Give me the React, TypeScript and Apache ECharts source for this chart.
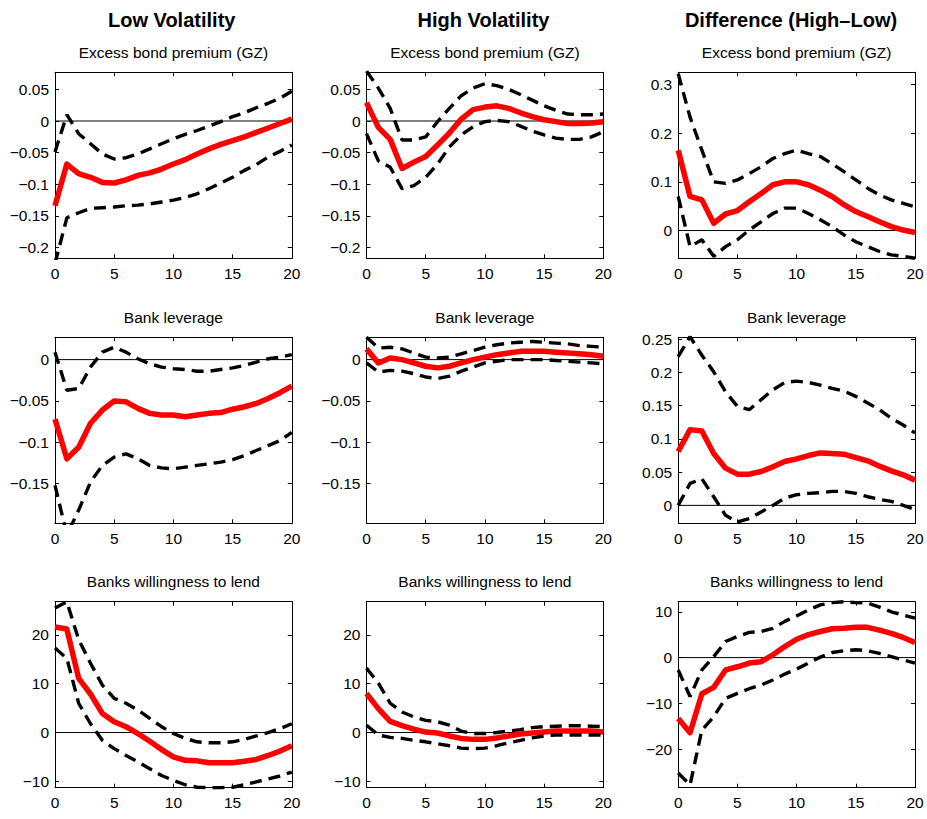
import React, { useEffect, useRef } from "react";
import * as echarts from "echarts";

// Horizon (quarters) and tick labels
const horizon = [0, 1, 2, 3, 4, 5, 6, 7, 8, 9, 10, 11, 12, 13, 14, 15, 16, 17, 18, 19, 20];
const xTicks = [0, 5, 10, 15, 20];

const columnTitles = ["Low Volatility", "High Volatility", "Difference (High\u2013Low)"];
const rowTitles = ["Excess bond premium (GZ)", "Bank leverage", "Banks willingness to lend"];

// Row 1: Excess bond premium (GZ)
const lowEbpMed = [-0.134, -0.068, -0.083, -0.089, -0.097, -0.098, -0.093, -0.086, -0.082, -0.076, -0.068, -0.061, -0.052, -0.044, -0.037, -0.031, -0.025, -0.018, -0.011, -0.004, 0.003];
const lowEbpUp = [-0.049, 0.01, -0.02, -0.036, -0.052, -0.06, -0.058, -0.052, -0.044, -0.036, -0.028, -0.021, -0.015, -0.008, -0.001, 0.007, 0.013, 0.021, 0.028, 0.036, 0.047];
const lowEbpLo = [-0.225, -0.153, -0.145, -0.138, -0.137, -0.136, -0.134, -0.133, -0.131, -0.128, -0.125, -0.121, -0.115, -0.107, -0.098, -0.089, -0.078, -0.069, -0.057, -0.048, -0.038];

const highEbpMed = [0.029, -0.01, -0.029, -0.075, -0.065, -0.056, -0.038, -0.019, 0.003, 0.018, 0.022, 0.024, 0.02, 0.013, 0.007, 0.002, -0.001, -0.004, -0.004, -0.003, -0.001];
const highEbpUp = [0.079, 0.052, 0.02, -0.03, -0.03, -0.025, -0.001, 0.02, 0.04, 0.052, 0.059, 0.056, 0.05, 0.042, 0.033, 0.024, 0.017, 0.011, 0.01, 0.01, 0.011];
const highEbpLo = [-0.02, -0.063, -0.073, -0.107, -0.102, -0.089, -0.068, -0.041, -0.022, -0.009, -0.001, 0.001, -0.001, -0.008, -0.016, -0.022, -0.027, -0.029, -0.029, -0.025, -0.017];

const diffEbpMed = [0.165, 0.07, 0.063, 0.015, 0.034, 0.041, 0.059, 0.076, 0.094, 0.1, 0.1, 0.094, 0.083, 0.07, 0.053, 0.039, 0.029, 0.018, 0.008, 0.001, -0.004];
const diffEbpUp = [0.322, 0.233, 0.165, 0.1, 0.097, 0.104, 0.117, 0.131, 0.148, 0.158, 0.165, 0.158, 0.152, 0.137, 0.121, 0.104, 0.087, 0.073, 0.063, 0.056, 0.049];
const diffEbpLo = [0.07, -0.033, -0.019, -0.053, -0.033, -0.019, 0.001, 0.018, 0.035, 0.046, 0.046, 0.035, 0.022, 0.008, -0.009, -0.023, -0.033, -0.043, -0.05, -0.053, -0.057];

// Row 2: Bank leverage
const lowLevMed = [-0.072, -0.12, -0.106, -0.077, -0.061, -0.05, -0.051, -0.059, -0.065, -0.067, -0.067, -0.069, -0.067, -0.065, -0.064, -0.06, -0.057, -0.053, -0.047, -0.04, -0.032];
const lowLevUp = [0.009, -0.037, -0.035, -0.009, 0.009, 0.015, 0.009, 0.001, -0.005, -0.009, -0.011, -0.012, -0.014, -0.014, -0.012, -0.01, -0.007, -0.003, 0.001, 0.003, 0.006];
const lowLevLo = [-0.152, -0.212, -0.182, -0.148, -0.128, -0.118, -0.114, -0.12, -0.128, -0.131, -0.132, -0.13, -0.128, -0.126, -0.124, -0.121, -0.116, -0.11, -0.104, -0.098, -0.088];

const highLevMed = [0.013, -0.004, 0.002, 0.0, -0.004, -0.008, -0.01, -0.008, -0.004, 0.0, 0.003, 0.006, 0.008, 0.01, 0.01, 0.01, 0.009, 0.008, 0.007, 0.006, 0.004];
const highLevUp = [0.027, 0.014, 0.015, 0.013, 0.008, 0.003, 0.002, 0.003, 0.007, 0.011, 0.015, 0.018, 0.02, 0.021, 0.022, 0.021, 0.02, 0.019, 0.017, 0.016, 0.015];
const highLevLo = [-0.004, -0.015, -0.013, -0.014, -0.017, -0.021, -0.023, -0.02, -0.014, -0.009, -0.004, -0.002, 0.0, 0.0, 0.0, 0.0, -0.001, -0.002, -0.003, -0.004, -0.005];

const diffLevMed = [0.081, 0.114, 0.112, 0.078, 0.056, 0.047, 0.047, 0.051, 0.058, 0.066, 0.07, 0.075, 0.079, 0.078, 0.077, 0.072, 0.067, 0.059, 0.052, 0.046, 0.038];
const diffLevUp = [0.224, 0.254, 0.226, 0.201, 0.171, 0.149, 0.144, 0.159, 0.174, 0.185, 0.187, 0.185, 0.181, 0.176, 0.172, 0.164, 0.154, 0.144, 0.131, 0.121, 0.109];
const diffLevLo = [0.0, 0.033, 0.04, 0.013, -0.015, -0.025, -0.02, -0.01, 0.0, 0.011, 0.016, 0.018, 0.019, 0.021, 0.021, 0.018, 0.013, 0.009, 0.006, 0.0, -0.006];

// Row 3: Banks willingness to lend
const lowLendMed = [21.6, 21.2, 11.1, 7.9, 3.9, 2.2, 1.2, -0.2, -1.8, -3.5, -5.0, -5.7, -5.8, -6.2, -6.2, -6.2, -5.9, -5.5, -4.7, -3.8, -2.7];
const lowLendUp = [25.5, 26.8, 19.0, 14.2, 9.7, 7.0, 6.0, 4.6, 2.9, 1.2, -0.2, -1.2, -1.9, -2.1, -2.1, -1.9, -1.4, -0.7, 0.0, 0.8, 1.8];
const lowLendLo = [17.3, 15.2, 6.0, 1.8, -1.6, -3.3, -4.7, -6.0, -7.4, -8.8, -9.8, -10.7, -11.2, -11.3, -11.3, -11.2, -10.7, -10.1, -9.5, -8.9, -8.1];

const highLendMed = [8.0, 4.9, 2.3, 1.4, 0.7, 0.1, -0.1, -0.7, -1.2, -1.4, -1.4, -1.1, -0.7, -0.3, -0.1, 0.1, 0.3, 0.3, 0.3, 0.3, 0.1];
const highLendUp = [13.2, 10.1, 6.0, 4.2, 3.2, 2.5, 2.2, 1.5, 0.3, -0.2, -0.2, 0.0, 0.3, 0.6, 1.0, 1.2, 1.3, 1.4, 1.4, 1.3, 1.2];
const highLendLo = [1.5, -0.5, -1.0, -1.2, -1.6, -1.9, -2.3, -2.7, -3.2, -3.3, -3.2, -2.7, -2.1, -1.6, -1.1, -0.7, -0.5, -0.5, -0.5, -0.5, -0.5];

const diffLendMed = [-13.3, -16.4, -7.9, -6.5, -2.7, -2.0, -1.2, -0.9, 0.6, 2.4, 4.0, 5.0, 5.7, 6.3, 6.4, 6.6, 6.6, 6.0, 5.3, 4.4, 3.3];
const diffLendUp = [-2.7, -8.5, -2.7, 0.2, 3.5, 4.6, 5.5, 5.7, 6.4, 7.9, 9.1, 10.4, 11.5, 12.0, 12.2, 12.0, 11.9, 11.0, 10.0, 9.3, 8.6];
const diffLendLo = [-25.2, -27.8, -15.8, -12.9, -8.9, -7.8, -6.8, -6.0, -4.9, -3.6, -2.5, -1.2, 0.1, 1.1, 1.5, 1.7, 1.5, 0.9, 0.2, -0.5, -1.2];

// Y tick labels
const yTicksEbp = [-0.2, -0.15, -0.1, -0.05, 0, 0.05];
const yTicksEbpDiff = [0, 0.1, 0.2, 0.3];
const yTicksLev = [-0.15, -0.1, -0.05, 0];
const yTicksLevDiff = [0, 0.05, 0.1, 0.15, 0.2, 0.25];
const yTicksLend = [-10, 0, 10, 20];
const yTicksLendDiff = [-20, -10, 0, 10];

// Y ranges
const yRangeEbp = [-0.217, 0.077];
const yRangeEbpDiff = [-0.057, 0.325];
const yRangeLev = [-0.198, 0.027];
const yRangeLevDiff = [-0.027, 0.253];
const yRangeLend = [-11.3, 26.8];
const yRangeLendDiff = [-28.4, 12.2];

const panels = [
  { med: lowEbpMed, up: lowEbpUp, lo: lowEbpLo, ticks: yTicksEbp, range: yRangeEbp },
  { med: highEbpMed, up: highEbpUp, lo: highEbpLo, ticks: yTicksEbp, range: yRangeEbp },
  { med: diffEbpMed, up: diffEbpUp, lo: diffEbpLo, ticks: yTicksEbpDiff, range: yRangeEbpDiff },
  { med: lowLevMed, up: lowLevUp, lo: lowLevLo, ticks: yTicksLev, range: yRangeLev },
  { med: highLevMed, up: highLevUp, lo: highLevLo, ticks: yTicksLev, range: yRangeLev },
  { med: diffLevMed, up: diffLevUp, lo: diffLevLo, ticks: yTicksLevDiff, range: yRangeLevDiff },
  { med: lowLendMed, up: lowLendUp, lo: lowLendLo, ticks: yTicksLend, range: yRangeLend },
  { med: highLendMed, up: highLendUp, lo: highLendLo, ticks: yTicksLend, range: yRangeLend },
  { med: diffLendMed, up: diffLendUp, lo: diffLendLo, ticks: yTicksLendDiff, range: yRangeLendDiff },
];

const FONT = '"Liberation Sans", Arial, Helvetica, sans-serif';
const colLefts = [55, 366.5, 678.2];
const rowTops = [72.3, 337.3, 601.7];
const PW = 236.8;
const PH = 186;
const subTitleY = [52, 317, 581.5];

function fmt(v: number) {
  return String(v).replace("-", "\u2212");
}

export default function App() {
  const ref = useRef<HTMLDivElement>(null);
  useEffect(() => {
    if (!ref.current) return;
    const chart = echarts.init(ref.current, undefined, { renderer: "svg" });
    const grids: any[] = [];
    const xAxes: any[] = [];
    const yAxes: any[] = [];
    const series: any[] = [];
    const graphics: any[] = [];
    const axisLine = { show: true, onZero: false, lineStyle: { color: "#000", width: 1 } };

    panels.forEach((p, i) => {
      const r = Math.floor(i / 3);
      const c = i % 3;
      grids.push({ left: colLefts[c], top: rowTops[r], width: PW, height: PH, containLabel: false });
      const xBase = {
        type: "value",
        gridIndex: i,
        min: 0,
        max: 20,
        interval: 5,
        axisLine,
        splitLine: { show: false },
        axisTick: { show: true, inside: true, length: 4, lineStyle: { color: "#000" }, customValues: xTicks },
      };
      xAxes.push({
        ...xBase,
        position: "bottom",
        axisLabel: { show: true, customValues: xTicks, margin: 7, color: "#000", fontSize: 15.5, fontFamily: FONT },
      });
      xAxes.push({ ...xBase, position: "top", axisLabel: { show: false } });
      const yBase = {
        type: "value",
        gridIndex: i,
        min: p.range[0],
        max: p.range[1],
        axisLine,
        splitLine: { show: false },
        axisTick: { show: true, inside: true, length: 4, lineStyle: { color: "#000" }, customValues: p.ticks },
      };
      yAxes.push({
        ...yBase,
        position: "left",
        axisLabel: {
          show: true,
          customValues: p.ticks,
          margin: 6,
          color: "#000",
          fontSize: 15.5,
          fontFamily: FONT,
          formatter: (v: number) => fmt(v),
        },
      });
      yAxes.push({ ...yBase, position: "right", axisLabel: { show: false } });
      const xi = i * 2;
      const yi = i * 2;
      series.push({
        type: "line",
        xAxisIndex: xi,
        yAxisIndex: yi,
        data: [[horizon[0], 0], [horizon[horizon.length - 1], 0]],
        showSymbol: false,
        silent: true,
        lineStyle: { color: "#000", width: 1 },
        z: 1,
      });
      series.push({
        type: "line",
        xAxisIndex: xi,
        yAxisIndex: yi,
        data: p.med.map((v, k) => [horizon[k], v]),
        showSymbol: false,
        lineStyle: { color: "#ff0000", width: 5.5, join: "round" },
        z: 2,
      });
      [p.up, p.lo].forEach((arr) => {
        series.push({
          type: "line",
          xAxisIndex: xi,
          yAxisIndex: yi,
          data: arr.map((v, k) => [horizon[k], v]),
          showSymbol: false,
          lineStyle: { color: "#000", width: 3.4, type: [12, 7], cap: "butt" },
          z: 3,
        });
      });
      graphics.push({
        type: "text",
        x: colLefts[c] + PW / 2,
        y: subTitleY[r],
        style: {
          text: rowTitles[r],
          fontSize: 15.5,
          fontFamily: FONT,
          fill: "#000",
          align: "center",
          verticalAlign: "middle",
        },
      });
    });

    const titleX = [171.7, 483.5, 791];
    columnTitles.forEach((t, c) => {
      graphics.push({
        type: "text",
        x: titleX[c],
        y: 20,
        style: {
          text: t,
          fontSize: 20,
          fontWeight: "bold",
          fontFamily: FONT,
          fill: "#000",
          align: "center",
          verticalAlign: "middle",
        },
      });
    });

    chart.setOption({
      animation: false,
      backgroundColor: "#fff",
      grid: grids,
      xAxis: xAxes,
      yAxis: yAxes,
      series,
      graphic: graphics,
    });
    return () => chart.dispose();
  }, []);
  return (
    <div
      ref={ref}
      style={{ position: "absolute", left: 0, top: 0, width: 927, height: 819, background: "#fff" }}
    />
  );
}
